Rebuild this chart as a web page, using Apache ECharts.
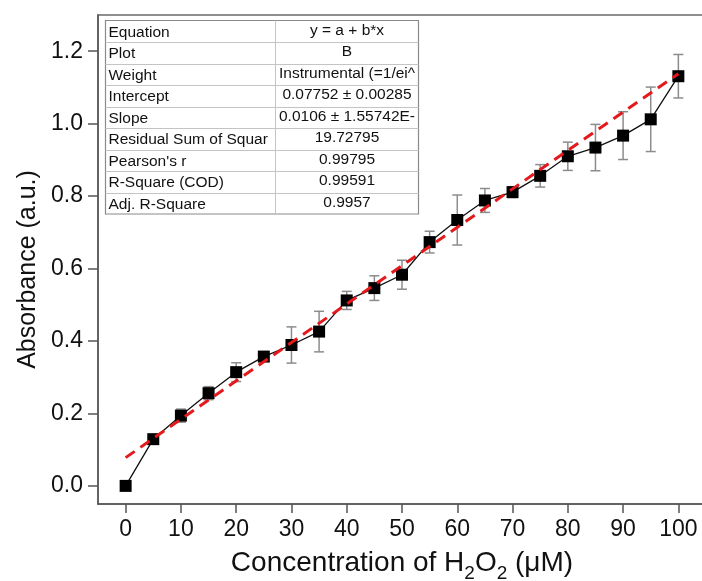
<!DOCTYPE html>
<html>
<head>
<meta charset="utf-8">
<script src="https://cdn.jsdelivr.net/npm/echarts@6/dist/echarts.min.js"></script>
<style>
  html, body { margin: 0; padding: 0; background: #fff; }
  #chart { width: 702px; height: 581px; }
</style>
</head>
<body>
<div id="chart"></div>
<script>
// values
const concentration = [0, 5, 10, 15, 20, 25, 30, 35, 40, 45, 50, 55, 60, 65, 70, 75, 80, 85, 90, 95, 100]
const absorbance = [0.000, 0.129, 0.194, 0.256, 0.314, 0.357, 0.389, 0.426, 0.512, 0.546, 0.583,
  0.673, 0.734, 0.788, 0.811, 0.856, 0.910, 0.934, 0.967, 1.012, 1.131]
const errors = [0.000, 0.010, 0.018, 0.018, 0.026, 0.010, 0.050, 0.056, 0.025, 0.034, 0.040,
  0.030, 0.069, 0.033, 0.015, 0.031, 0.039, 0.064, 0.066, 0.089, 0.060]
// linear fit end points
const fitX = [0, 100]
const fitY = [0.078, 1.138]
const xTicks = [0, 10, 20, 30, 40, 50, 60, 70, 80, 90, 100]
const yTicks = [0, 0.2, 0.4, 0.6, 0.8, 1.0, 1.2]
const tableLabels = ['Equation', 'Plot', 'Weight', 'Intercept', 'Slope', 'Residual Sum of Squar',
  "Pearson's r", 'R-Square (COD)', 'Adj. R-Square']
const tableValues = ['y = a + b*x', 'B', 'Instrumental (=1/ei^', '0.07752 \u00b1 0.00285',
  '0.0106 \u00b1 1.55742E-', '19.72795', '0.99795', '0.99591', '0.9957']

const font = '"Liberation Sans", Arial, sans-serif'

// table drawn as graphic elements
function buildTable () {
  const left = 105.5, top = 20.5, mid = 275.5, right = 418.5, rowH = 21.5
  const els = []
  els.push({
    type: 'rect',
    shape: { x: left, y: top, width: right - left, height: rowH * tableLabels.length },
    style: { fill: '#fff', stroke: '#8a8a8a', lineWidth: 1.2 }
  })
  for (let i = 1; i < tableLabels.length; i++) {
    const y = Math.round(top + rowH * i) + 0.5
    els.push({ type: 'line', shape: { x1: left, y1: y, x2: right, y2: y }, style: { stroke: '#c4c4c4', lineWidth: 1 } })
  }
  els.push({ type: 'line', shape: { x1: mid, y1: top, x2: mid, y2: top + rowH * tableLabels.length }, style: { stroke: '#c4c4c4', lineWidth: 1 } })
  tableLabels.forEach((t, i) => {
    const cy = top + rowH * i + rowH / 2 + 1
    els.push({ type: 'text', x: left + 3, y: cy, style: { text: t, font: '15.5px ' + font, fill: '#111', verticalAlign: 'middle', align: 'left' } })
    els.push({ type: 'text', x: (mid + right) / 2, y: cy - 2, style: { text: tableValues[i], font: '15.5px ' + font, fill: '#111', verticalAlign: 'middle', align: 'center' } })
  })
  return els
}

const chart = echarts.init(document.getElementById('chart'))
chart.setOption({
  animation: false,
  grid: {
    left: 98, top: 15, right: -4, bottom: 77,
    outerBoundsMode: 'none', containLabel: false,
    show: true, borderColor: '#6a6a6a', borderWidth: 1.5
  },
  xAxis: {
    type: 'value', min: -5, max: 105,
    name: '{a|Concentration of H}{s|2}{a|O}{s|2}{a| (\u03bcM)}',
    nameLocation: 'middle', nameGap: 45,
    nameTextStyle: {
      rich: {
        a: { fontSize: 28, fontFamily: font, color: '#111', verticalAlign: 'top', lineHeight: 32 },
        s: { fontSize: 19, fontFamily: font, color: '#111', padding: [15, 0, 0, 0], verticalAlign: 'top', lineHeight: 32 }
      }
    },
    axisLine: { show: true, onZero: false, lineStyle: { color: '#555', width: 1.5 } },
    axisTick: { show: true, length: 9, inside: false, customValues: xTicks, lineStyle: { color: '#555', width: 1.5 } },
    axisLabel: { customValues: xTicks, fontSize: 23, fontFamily: font, color: '#111', margin: 14 },
    splitLine: { show: false }
  },
  yAxis: {
    type: 'value', min: -0.05, max: 1.3,
    name: 'Absorbance (a.u.)', nameLocation: 'middle', nameGap: 56,
    nameTextStyle: { fontSize: 25, fontFamily: font, color: '#111', padding: [0, 20, 0, 0] },
    axisLine: { show: true, onZero: false, lineStyle: { color: '#555', width: 1.5 } },
    axisTick: { show: true, length: 10, inside: false, customValues: yTicks, lineStyle: { color: '#555', width: 1.5 } },
    axisLabel: { customValues: yTicks, fontSize: 23, fontFamily: font, color: '#111', margin: 15, formatter: v => v.toFixed(1) },
    splitLine: { show: false }
  },
  graphic: buildTable(),
  series: [
    {
      type: 'custom',
      z: 2,
      data: concentration.map((x, i) => [x, absorbance[i] - errors[i], absorbance[i] + errors[i]]),
      renderItem: (params, api) => {
        const lo = api.coord([api.value(0), api.value(1)])
        const hi = api.coord([api.value(0), api.value(2)])
        const w = 5
        const st = { stroke: '#8c8c8c', lineWidth: 1.5 }
        return {
          type: 'group',
          children: [
            { type: 'line', shape: { x1: lo[0], y1: lo[1], x2: hi[0], y2: hi[1] }, style: st },
            { type: 'line', shape: { x1: lo[0] - w, y1: lo[1], x2: lo[0] + w, y2: lo[1] }, style: st },
            { type: 'line', shape: { x1: hi[0] - w, y1: hi[1], x2: hi[0] + w, y2: hi[1] }, style: st }
          ]
        }
      }
    },
    {
      type: 'line',
      z: 3,
      data: concentration.map((x, i) => [x, absorbance[i]]),
      symbol: 'rect', symbolSize: 12,
      itemStyle: { color: '#000' },
      lineStyle: { color: '#111', width: 1.3 }
    },
    {
      type: 'line',
      z: 4,
      data: fitX.map((x, i) => [x, fitY[i]]),
      symbol: 'none',
      lineStyle: { color: '#e3191c', width: 3, type: [11, 7] }
    }
  ]
})
</script>
</body>
</html>
